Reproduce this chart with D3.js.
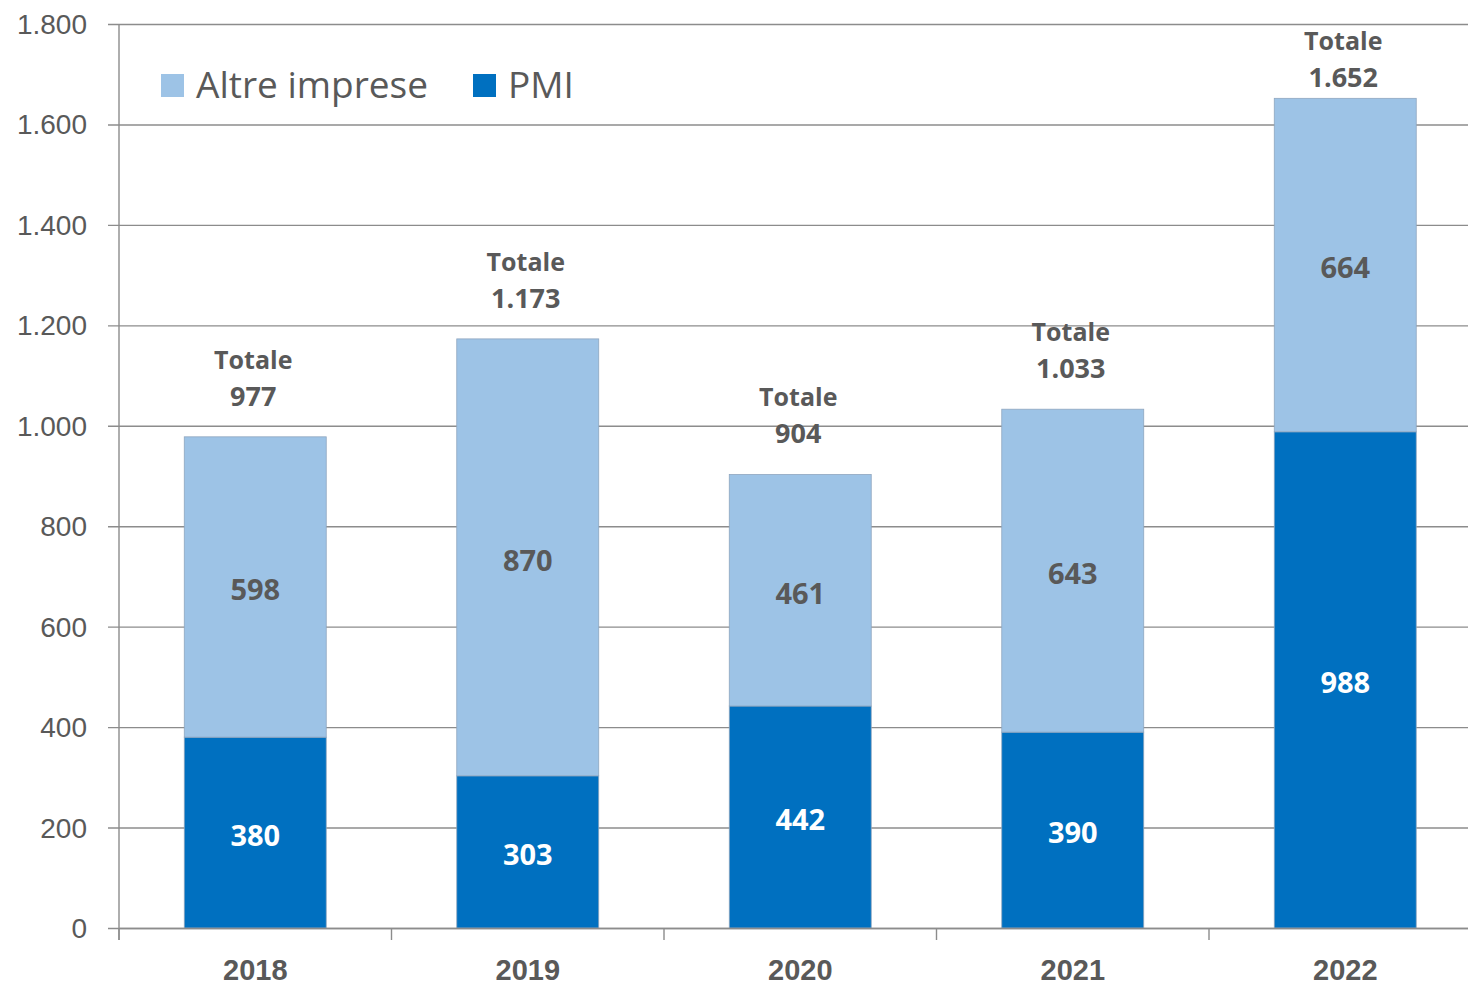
<!DOCTYPE html>
<html>
<head>
<meta charset="utf-8">
<script src="https://cdn.jsdelivr.net/npm/d3@7"></script>
<style>
  body { margin: 0; background: #fff; }
  svg { display: block; font-family: "Open Sans", sans-serif; }
</style>
</head>
<body>
<div id="draw-area"></div>
<script>
// dati
const years = ['2018', '2019', '2020', '2021', '2022'];
const pmi = [380, 303, 442, 390, 988];
const altre = [598, 870, 461, 643, 664];
const totali = ['977', '1.173', '904', '1.033', '1.652'];
const yTicks = [0, 200, 400, 600, 800, 1000, 1200, 1400, 1600, 1800];
const seriesNames = ['Altre imprese', 'PMI'];

const W = 1468, H = 986;
const plotLeft = 119, plotTop = 24, plotBottom = 928;
const textColor = '#595959', gridColor = '#8c8c8c';
const colors = { 'PMI': '#0070c0', 'Altre imprese': '#9dc3e6' };

const svg = d3.select('#draw-area').append('svg')
  .attr('width', W).attr('height', H);

// la banda dell'ultima categoria esce dal riquadro, come nell'originale
const x = d3.scaleBand().domain(years).range([plotLeft, plotLeft + 5 * 272.5])
  .paddingInner(0.479).paddingOuter(0.479 / 2);
const y = d3.scaleLinear().domain([0, 1800]).range([plotBottom, plotTop]);

// griglia + asse Y
const yAxis = svg.append('g')
  .attr('transform', `translate(${plotLeft},0)`)
  .call(d3.axisLeft(y).tickValues(yTicks)
    .tickSize(11)
    .tickFormat(d => d3.format(',')(d).replace(/,/g, '.')));
yAxis.select('.domain').remove();
yAxis.selectAll('.tick line').attr('stroke', gridColor).attr('stroke-width', 1.4)
  .attr('x2', -11).attr('x1', W - plotLeft);
yAxis.selectAll('.tick text').attr('fill', textColor).attr('font-size', 28)
  .attr('x', -32).attr('dy', '0.34em');

// asse verticale
svg.append('line')
  .attr('x1', plotLeft).attr('x2', plotLeft).attr('y1', plotTop).attr('y2', plotBottom + 12)
  .attr('stroke', gridColor).attr('stroke-width', 1.4);

// barre impilate
const rows = years.map((yr, i) => ({ year: yr, PMI: pmi[i], 'Altre imprese': altre[i] }));
const stack = d3.stack().keys(['PMI', 'Altre imprese'])(rows);

svg.append('g').selectAll('g')
  .data(stack).enter().append('g')
  .attr('fill', d => colors[d.key])
  .selectAll('rect')
  .data(d => d).enter().append('rect')
  .attr('x', d => x(d.data.year))
  .attr('y', d => y(d[1]))
  .attr('width', x.bandwidth())
  .attr('height', d => y(d[0]) - y(d[1]))
  .attr('stroke', '#8fa6bf').attr('stroke-width', 0.8);

// asse X
const xAxis = svg.append('g')
  .attr('transform', `translate(0,${plotBottom})`)
  .call(d3.axisBottom(x).tickSize(0).tickPadding(30));
xAxis.select('.domain').attr('stroke', gridColor).attr('stroke-width', 1.4);
xAxis.selectAll('.tick text').attr('fill', textColor).attr('font-size', 29)
  .attr('font-weight', 'bold').attr('dy', '0.75em');

// tacche tra le categorie
svg.append('g').selectAll('line')
  .data(years).enter().append('line')
  .attr('x1', d => x(d) - x.step() * x.paddingInner() / 2)
  .attr('x2', d => x(d) - x.step() * x.paddingInner() / 2)
  .attr('y1', plotBottom).attr('y2', plotBottom + 12)
  .attr('stroke', gridColor).attr('stroke-width', 1.4);

// etichette valori
stack.forEach(s => {
  svg.append('g').selectAll('text')
    .data(s).enter().append('text')
    .attr('x', d => x(d.data.year) + x.bandwidth() / 2)
    .attr('y', d => (y(d[0]) + y(d[1])) / 2)
    .attr('dy', '0.46em')
    .attr('text-anchor', 'middle')
    .attr('font-size', 29).attr('font-weight', 'bold')
    .attr('fill', s.key === 'PMI' ? '#ffffff' : textColor)
    .text(d => d[1] - d[0]);
});

// totali (tenuti dentro l'area del grafico)
const tot = svg.append('g').selectAll('g')
  .data(rows).enter().append('g')
  .attr('transform', (d, i) => {
    const ty = Math.max(y(pmi[i] + altre[i]) - 68, 50);
    return `translate(${x(d.year) + x.bandwidth() / 2 - 2},${ty})`;
  });
tot.append('text')
  .attr('y', 0).attr('text-anchor', 'middle')
  .attr('font-size', 25).attr('font-weight', 'bold').attr('fill', textColor)
  .text('Totale');
tot.append('text')
  .attr('y', 37).attr('text-anchor', 'middle')
  .attr('font-size', 27).attr('font-weight', 'bold').attr('fill', textColor)
  .text((d, i) => totali[i]);

// legenda
const legX = [161, 473];
const leg = svg.append('g').selectAll('g')
  .data(seriesNames).enter().append('g')
  .attr('transform', (d, i) => `translate(${legX[i]},74)`);
leg.append('rect').attr('width', 23).attr('height', 23)
  .attr('fill', d => colors[d]);
leg.append('text').attr('x', 35).attr('y', 24)
  .attr('font-size', 37).attr('fill', textColor)
  .text(d => d);
</script>
</body>
</html>
